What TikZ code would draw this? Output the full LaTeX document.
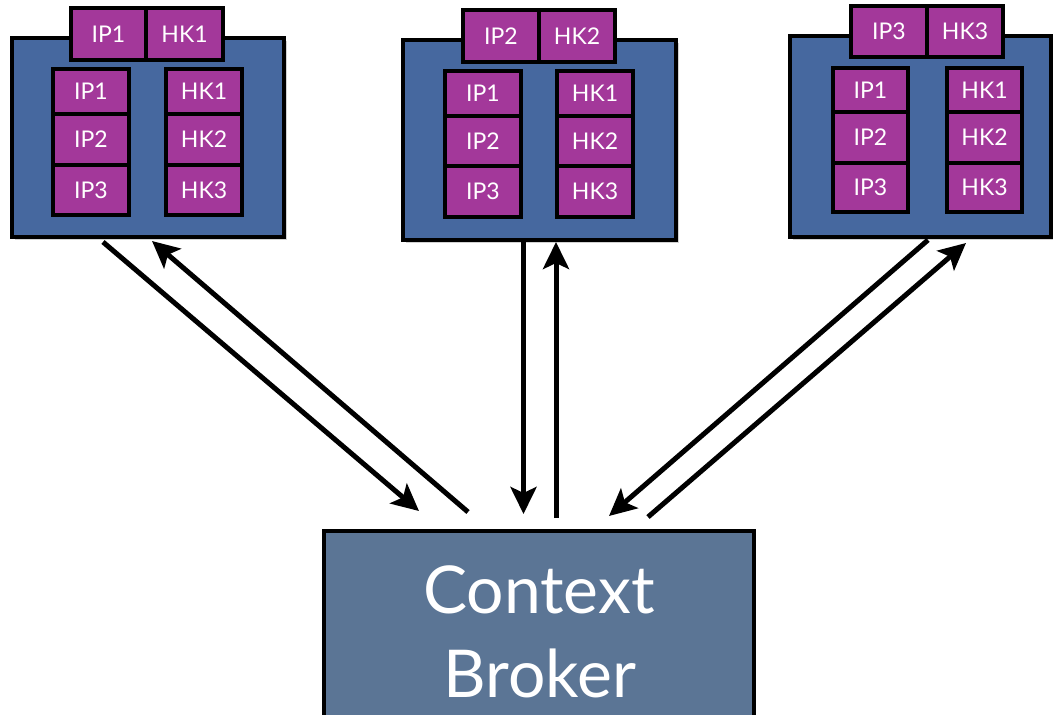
\documentclass[tikz,border=0pt]{standalone}
\usepackage{fontspec}
\setmainfont{Lato}
\usetikzlibrary{arrows.meta,shadows}
\definecolor{srvblue}{HTML}{46689F}
\definecolor{cellpurple}{HTML}{A3389A}
\definecolor{brokerblue}{HTML}{5B7595}
\begin{document}
\begin{tikzpicture}[x=1pt,y=-1pt,
  server/.style={draw=black, line width=4pt, fill=srvblue, inner sep=0pt,
    drop shadow={shadow xshift=3pt, shadow yshift=-3pt, opacity=0.35}},
  cell/.style={draw=black, line width=3.5pt, fill=cellpurple, text=white,
    font=\fontsize{23}{23}\selectfont, inner sep=0pt},
  broker/.style={draw=black, line width=3.5pt, fill=brokerblue, inner sep=0pt},
  label/.style={text=white, font=\fontsize{66}{84}\selectfont, inner sep=0pt, anchor=base},
  flow/.style={line width=5pt, -{Stealth[length=27pt,width=26pt,inset=6pt]}}]
\clip (0,0) rectangle (1053,715);
\fill[white] (0,0) rectangle (1053,715);

% server 1
\node[server, minimum width=272pt, minimum height=199pt] (s1) at (148,137.5) {};
\node[cell, minimum width=75pt, minimum height=52pt] (s1tip) at (108.5,34) {IP1};
\node[cell, minimum width=77pt, minimum height=52pt] (s1thk) at (184.5,34) {HK1};
\node[cell, minimum width=76pt, minimum height=45pt] (s1ip1) at (91,91.5) {IP1};
\node[cell, minimum width=76pt, minimum height=51pt] (s1ip2) at (91,139.5) {IP2};
\node[cell, minimum width=76pt, minimum height=50pt] (s1ip3) at (91,190) {IP3};
\node[cell, minimum width=76pt, minimum height=45pt] (s1hk1) at (204,91.5) {HK1};
\node[cell, minimum width=76pt, minimum height=51pt] (s1hk2) at (204,139.5) {HK2};
\node[cell, minimum width=76pt, minimum height=50pt] (s1hk3) at (204,190) {HK3};

% server 2
\node[server, minimum width=273pt, minimum height=200pt] (s2) at (539.5,140) {};
\node[cell, minimum width=76pt, minimum height=52pt] (s2tip) at (501,36) {IP2};
\node[cell, minimum width=76pt, minimum height=52pt] (s2thk) at (577,36) {HK2};
\node[cell, minimum width=76pt, minimum height=45pt] (s2ip1) at (483,93.5) {IP1};
\node[cell, minimum width=76pt, minimum height=50pt] (s2ip2) at (483,141) {IP2};
\node[cell, minimum width=76pt, minimum height=51pt] (s2ip3) at (483,191.5) {IP3};
\node[cell, minimum width=76pt, minimum height=45pt] (s2hk1) at (595,93.5) {HK1};
\node[cell, minimum width=76pt, minimum height=50pt] (s2hk2) at (595,141) {HK2};
\node[cell, minimum width=76pt, minimum height=51pt] (s2hk3) at (595,191.5) {HK3};

% server 3
\node[server, minimum width=261pt, minimum height=201pt] (s3) at (920.5,136.5) {};
\node[cell, minimum width=76pt, minimum height=51pt] (s3tip) at (889,31.5) {IP3};
\node[cell, minimum width=76pt, minimum height=51pt] (s3thk) at (965,31.5) {HK3};
\node[cell, minimum width=75pt, minimum height=44pt] (s3ip1) at (870.5,90) {IP1};
\node[cell, minimum width=75pt, minimum height=51pt] (s3ip2) at (870.5,137.5) {IP2};
\node[cell, minimum width=75pt, minimum height=49pt] (s3ip3) at (870.5,187.5) {IP3};
\node[cell, minimum width=75pt, minimum height=44pt] (s3hk1) at (984.5,90) {HK1};
\node[cell, minimum width=75pt, minimum height=51pt] (s3hk2) at (984.5,137.5) {HK2};
\node[cell, minimum width=75pt, minimum height=49pt] (s3hk3) at (984.5,187.5) {HK3};

% context broker
\node[broker, minimum width=430pt, minimum height=200pt] (cb) at (539,631) {};
\node[label] (cbt) at (539,613) {Context};
\node[label] (cbb) at (540,697) {Broker};

% arrow end points
\coordinate (a1s) at (103,242);
\coordinate (a1e) at (419,511);
\coordinate (b1s) at (468,512);
\coordinate (b1e) at (152,241);
\coordinate (a2s) at (523.5,240);
\coordinate (a2e) at (523.5,514);
\coordinate (b2s) at (556,518);
\coordinate (b2e) at (556,242);
\coordinate (a3s) at (928,240);
\coordinate (a3e) at (609,516);
\coordinate (b3s) at (648,517);
\coordinate (b3e) at (966,243);

\draw[flow] (a1s) -- (a1e);
\draw[flow] (b1s) -- (b1e);
\draw[flow] (a2s) -- (a2e);
\draw[flow] (b2s) -- (b2e);
\draw[flow] (a3s) -- (a3e);
\draw[flow] (b3s) -- (b3e);
\end{tikzpicture}
\end{document}
